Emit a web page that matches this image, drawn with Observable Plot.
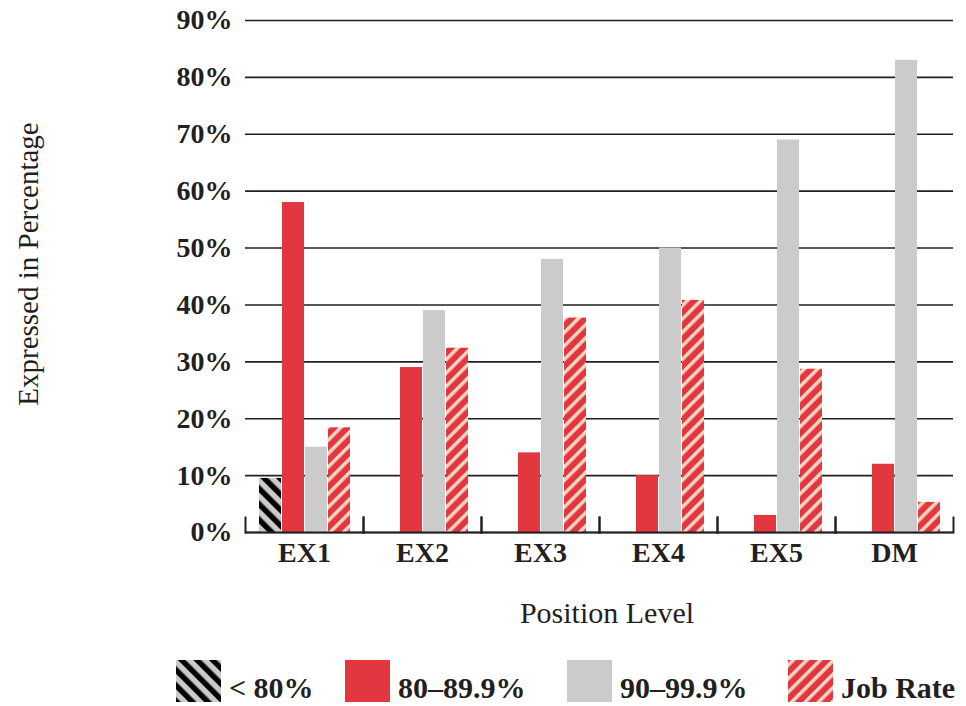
<!DOCTYPE html>
<html><head><meta charset="utf-8">
<script src="https://cdn.jsdelivr.net/npm/d3@7"></script>
<script src="https://cdn.jsdelivr.net/npm/@observablehq/plot@0.6"></script>
<style>
html,body{margin:0;padding:0;background:#fff;}
#wrap{position:relative;width:966px;height:706px;overflow:hidden;}
#wrap svg{position:absolute;left:0;top:0;}
</style></head><body><div id="wrap"></div>
<script>
const categories = ["EX1", "EX2", "EX3", "EX4", "EX5", "DM"];
const seriesNames = ["< 80%", "80–89.9%", "90–99.9%", "Job Rate"];
const below80 = [9.5, 0, 0, 0, 0, 0];
const range80to89 = [58, 29, 14, 10, 3, 12];
const range90to99 = [15, 39, 48, 50, 69, 83];
const jobRate = [18.4, 32.4, 37.7, 40.8, 28.7, 5.3];
const yTicks = [0, 10, 20, 30, 40, 50, 60, 70, 80, 90];
const seriesFills = ["url(#hatchBlack)", "#e3373f", "#cbcbcb", "url(#hatchRed)"];
const xTitle = "Position Level";
const yTitle = "Expressed in Percentage";

const ink = "#231f20";
const columns = [below80, range80to89, range90to99, jobRate];
const data = categories.flatMap((c, i) => seriesNames.map((s, j) => ({category: c, series: s, value: columns[j][i]})));

const W = 966, H = 580;
const chart = Plot.plot({
  width: W, height: H,
  marginLeft: 245, marginRight: 13, marginTop: 20, marginBottom: 48,
  style: {fontFamily: "'Liberation Serif', serif", fontSize: "28px", fontWeight: "bold", color: ink, background: "transparent", overflow: "visible"},
  fx: {domain: categories, padding: 0, axis: "bottom", tickSize: 0, tickPadding: 10, label: null},
  x: {domain: seriesNames, axis: null, paddingInner: 0.06, paddingOuter: 0.55},
  y: {domain: [0, 90], ticks: yTicks, tickFormat: d => d + "%", tickSize: 0, tickPadding: 13, label: null},
  color: {domain: seriesNames, range: seriesFills},
  marks: [
    Plot.ruleY(yTicks, {stroke: ink, strokeWidth: 1.6}),
    Plot.barY(data, {fx: "category", x: "series", y: "value", fill: "series"}),
    Plot.ruleY([0], {stroke: ink, strokeWidth: 2}),
    Plot.frame({anchor: "left", insetTop: 497, stroke: ink, strokeWidth: 2}),
    Plot.frame({anchor: "right", insetTop: 497, stroke: ink, strokeWidth: 2})
  ]
});

const defs = d3.select(chart).insert("defs", ":first-child");
const pb = defs.append("pattern").attr("id", "hatchBlack").attr("patternUnits", "userSpaceOnUse")
  .attr("width", 11).attr("height", 11).attr("patternTransform", "rotate(-45)");
pb.append("rect").attr("width", 11).attr("height", 11).attr("fill", "#cbcbcb");
pb.append("rect").attr("width", 5.5).attr("height", 11).attr("fill", "#000");
const pr = defs.append("pattern").attr("id", "hatchRed").attr("patternUnits", "userSpaceOnUse")
  .attr("width", 9.5).attr("height", 9.5).attr("patternTransform", "rotate(45)");
pr.append("rect").attr("width", 9.5).attr("height", 9.5).attr("fill", "#e3373f");
pr.append("rect").attr("width", 3.5).attr("height", 9.5).attr("fill", "#f8d4c4");

const wrap = document.getElementById("wrap");
wrap.appendChild(chart);

const over = d3.create("svg").attr("width", 966).attr("height", 706)
  .style("font-family", "'Liberation Serif', serif").style("pointer-events", "none");
over.append("text").attr("transform", "translate(38,264) rotate(-90)").attr("text-anchor", "middle")
  .attr("font-size", 29).attr("fill", ink).text(yTitle);
over.append("text").attr("x", 607).attr("y", 623).attr("text-anchor", "middle")
  .attr("font-size", 30).attr("fill", ink).text(xTitle);

const legendX = [176, 345, 567, 788];
const lg = over.append("g");
seriesNames.forEach((s, i) => {
  lg.append("rect").attr("x", legendX[i]).attr("y", 660).attr("width", 45).attr("height", 42).attr("fill", seriesFills[i]);
  lg.append("text").attr("x", legendX[i] + 53).attr("y", 698).attr("font-size", 30).attr("font-weight", "bold")
    .attr("fill", ink).text(s);
});
wrap.appendChild(over.node());
</script></body></html>
